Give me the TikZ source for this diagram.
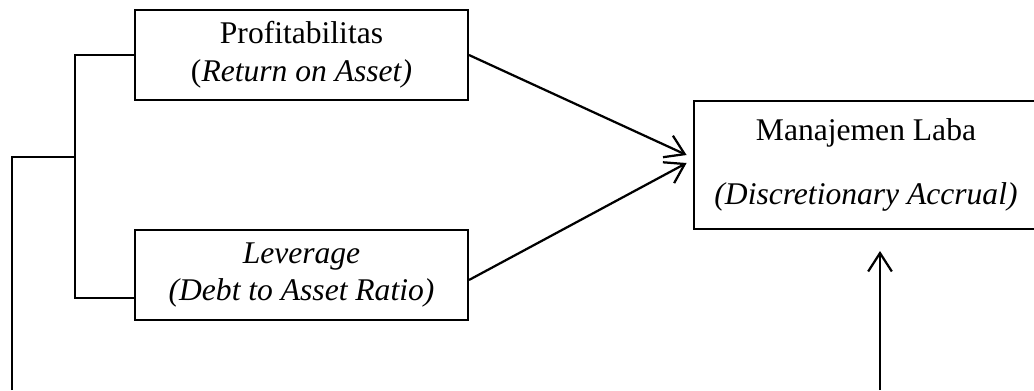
\documentclass[tikz,border=0pt]{standalone}
\usepackage{fontspec}
\setmainfont{Liberation Serif}
\usetikzlibrary{arrows.meta, positioning, calc}

\begin{document}
\begin{tikzpicture}[x=0.38pt, y=-0.38pt,
    box/.style={rectangle, draw=black, line width=0.8pt, fill=white,
        text=black, font=\fontsize{12}{14.4}\selectfont, minimum width=126.5pt,
        minimum height=34.2pt, align=center, inner sep=0pt},
    arr/.style={-{Straight Barb[length=7pt, width=9pt]}, line width=0.85pt},
    brk/.style={line width=0.5pt}
]
    \useasboundingbox (0,0) rectangle (1034,390);
    \node[box] (roa) at (301.5,55) {Profitabilitas\\(\textit{Return on Asset)}};
    \node[box] (der) at (301.5,275) {\textit{Leverage}\\\textit{(Debt to Asset Ratio)}};
    \node[box, minimum width=131pt, minimum height=48.6pt] (ml) at (866,165)
        {Manajemen Laba\\[10pt]\textit{(Discretionary Accrual)}};
    \coordinate (j) at (75,157);
    \coordinate (lbot) at (12,390);
    \coordinate (ubot) at (880,390);
    \draw[arr] (roa.east) -- ($(ml.west)+(-6,-10)$);
    \draw[arr] ($(der.east)+(0,5)$) -- ($(ml.west)+(-6,-2)$);
    \draw[brk] (roa.west) -| (j);
    \draw[brk] ($(der.west)+(0,23)$) -| (j);
    \draw[line width=0.8pt] (lbot) |- (j);
    \draw[arr] (ubot) -- ($(ml.south -| ubot)+(0,21)$);
\end{tikzpicture}
\end{document}
